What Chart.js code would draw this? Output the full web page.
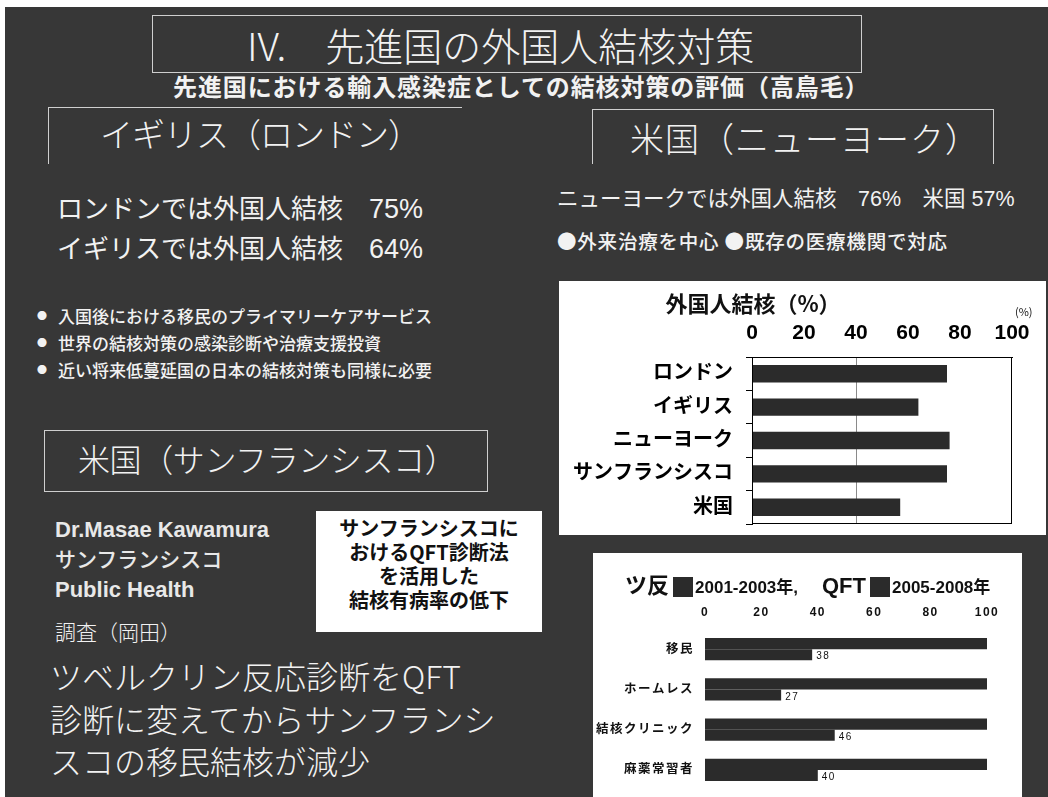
<!DOCTYPE html>
<html lang="ja">
<head>
<meta charset="utf-8">
<title>IV. 先進国の外国人結核対策</title>
<script src="https://cdn.jsdelivr.net/npm/chart.js@4.4.1/dist/chart.umd.min.js"></script>
<style>
  html, body { margin: 0; padding: 0; }
  body {
    width: 1048px; height: 797px; position: relative; overflow: hidden;
    background: #fff; font-family: 'Noto Sans CJK JP', sans-serif;
  }
  .slide { position: absolute; left: 5px; top: 7px; right: 0; bottom: 0; background: #373737; }
  .t { position: absolute; white-space: nowrap; color: #f2f2f2; line-height: 1; }
  .thin { font-weight: 300; }
  .latin { font-family: 'Liberation Sans', 'Noto Sans CJK JP', sans-serif; }
  .frame { position: absolute; border-color: #cfcfcf; border-style: solid; border-width: 0; }
  .dot { display: inline-block; width: 21px; font-size: 10px; vertical-align: 3px; }
  .panel { position: absolute; background: #fff; }
  .panel canvas { display: block; }
  .note {
    position: absolute; left: 316px; top: 511px; width: 226px; height: 121px; background: #fff;
    color: #111; font-weight: 700; font-size: 20px; line-height: 24px; text-align: center;
    box-sizing: border-box; padding-top: 5px;
  }
  .k { position: absolute; white-space: nowrap; color: #111; line-height: 1; font-weight: 700; }
  .sq { position: absolute; width: 20px; height: 20px; background: #2b2b2b; }
</style>
</head>
<body>
<div class="slide"></div>

<!-- 見出し -->
<div class="frame" style="left:152px;top:15px;width:708px;height:56px;border-width:1.5px;"></div>
<div class="t thin" style="left:247px;top:25px;font-size:39px;">IV.&emsp;先進国の外国人結核対策</div>
<div class="t" style="left:173px;top:74px;font-size:24px;font-weight:700;letter-spacing:0.9px;">先進国における輸入感染症としての結核対策の評価（高鳥毛）</div>

<!-- イギリス -->
<div class="frame" style="left:48px;top:107px;width:413px;height:56px;border-top-width:1px;border-left-width:1px;"></div>
<div class="t thin" style="left:100px;top:117px;font-size:33px;letter-spacing:-1px;">イギリス（ロンドン）</div>
<div class="t latin" style="left:57px;top:196px;font-size:26px;">ロンドンでは外国人結核&emsp;<span style="font-size:27px;">75%</span></div>
<div class="t latin" style="left:57px;top:236px;font-size:26px;">イギリスでは外国人結核&emsp;<span style="font-size:27px;">64%</span></div>
<div class="t" style="left:37px;top:307px;font-size:17px;font-weight:500;"><span class="dot">●</span>入国後における移民のプライマリーケアサービス</div>
<div class="t" style="left:37px;top:334px;font-size:17px;font-weight:500;"><span class="dot">●</span>世界の結核対策の感染診断や治療支援投資</div>
<div class="t" style="left:37px;top:361px;font-size:17px;font-weight:500;"><span class="dot">●</span>近い将来低蔓延国の日本の結核対策も同様に必要</div>

<!-- 米国（ニューヨーク） -->
<div class="frame" style="left:592px;top:109px;width:400px;height:54px;border-top-width:1px;border-left-width:1px;border-right-width:1px;"></div>
<div class="t thin" style="left:630px;top:121px;font-size:34px;letter-spacing:1px;">米国（ニューヨーク）</div>
<div class="t latin" style="left:557px;top:189px;font-size:21.5px;">ニューヨークでは外国人結核&emsp;76%&emsp;米国 57%</div>
<div class="t" style="left:557px;top:231px;font-size:19.5px;font-weight:500;letter-spacing:0.8px;">●外来治療を中心 ●既存の医療機関で対応</div>

<!-- 米国（サンフランシスコ） -->
<div class="frame" style="left:44px;top:430px;width:442px;height:60px;border-width:1px;"></div>
<div class="t thin" style="left:78px;top:442px;font-size:32px;letter-spacing:-0.4px;">米国（サンフランシスコ）</div>
<div class="t latin" style="left:55px;top:519px;font-size:22px;font-weight:700;color:#e8e8e8;">Dr.Masae Kawamura</div>
<div class="t" style="left:55px;top:548px;font-size:21px;font-weight:500;color:#e8e8e8;">サンフランシスコ</div>
<div class="t latin" style="left:55px;top:579px;font-size:22px;font-weight:700;color:#e8e8e8;">Public Health</div>
<div class="note">サンフランシスコに<br>おけるQFT診断法<br>を活用した<br>結核有病率の低下</div>
<div class="t thin" style="left:55px;top:621px;font-size:21px;">調査（岡田）</div>
<div class="t thin" style="left:50px;top:659px;font-size:32px;">ツベルクリン反応診断をQFT</div>
<div class="t thin" style="left:50px;top:702px;font-size:32px;">診断に変えてからサンフランシ</div>
<div class="t thin" style="left:50px;top:744px;font-size:32px;">スコの移民結核が減少</div>

<!-- 外国人結核の割合 -->
<div class="panel" style="left:559px;top:281px;width:487px;height:254px;">
  <canvas id="rateChart" width="487" height="254"></canvas>
</div>
<div class="k" style="left:753px;top:291px;font-size:22px;transform:translateX(-50%);">外国人結核（%）</div>
<div class="k" style="left:1015px;top:306px;font-size:11px;font-weight:400;">(%)</div>

<!-- ツ反 / QFT の比較 -->
<div class="panel" style="left:593px;top:553px;width:429px;height:244px;">
  <canvas id="qftChart" width="429" height="244"></canvas>
</div>
<div id="qftLegend"></div>

<script>
// 外国人結核の割合（%）
const cityLabels = ['ロンドン', 'イギリス', 'ニューヨーク', 'サンフランシスコ', '米国'];
const foreignTbRate = [75, 64, 76, 75, 57];
const rateTicks = [0, 20, 40, 60, 80, 100];

// サンフランシスコの結核有病率：ツ反 (2001-2003年) を 100 とした QFT (2005-2008年)
const groupLabels = ['移民', 'ホームレス', '結核クリニック', '麻薬常習者'];
const testNames = ['ツ反', 'QFT'];
const periodLabels = ['2001-2003年,', '2005-2008年'];
const tstValues = [100, 100, 100, 100];
const qftValues = [38, 27, 46, 40];
const qftTicks = [0, 20, 40, 60, 80, 100];

const FONT = "'Liberation Sans', 'Noto Sans CJK JP', sans-serif";
const BAR = '#2b2b2b';

// plot area outline
const frame = {
  id: 'frame',
  afterDraw(chart) {
    const { ctx, chartArea: a } = chart;
    ctx.save();
    ctx.strokeStyle = '#000';
    ctx.lineWidth = 1;
    ctx.strokeRect(Math.round(a.left) + 0.5, Math.round(a.top) + 0.5,
      Math.round(a.right - a.left) - 1, Math.round(a.bottom - a.top) - 1);
    ctx.restore();
  }
};

// numbers at the end of the QFT bars
const valueLabels = {
  id: 'valueLabels',
  afterDatasetsDraw(chart) {
    const { ctx } = chart;
    const values = chart.data.datasets[1].data;
    ctx.save();
    ctx.font = '10px ' + FONT;
    ctx.fillStyle = '#111';
    ctx.textAlign = 'left';
    ctx.textBaseline = 'middle';
    chart.getDatasetMeta(1).data.forEach((bar, i) => {
      ctx.fillText(String(values[i]), bar.x + 4, bar.y + 2);
    });
    ctx.restore();
  }
};

// spaced-out lettering on the second chart
const spaced = {
  id: 'spaced',
  beforeDraw(chart) { chart.ctx.letterSpacing = '1.5px'; },
  afterDraw(chart) { chart.ctx.letterSpacing = '0px'; }
};

new Chart(document.getElementById('rateChart'), {
  type: 'bar',
  data: {
    labels: cityLabels,
    datasets: [{
      label: '外国人結核',
      data: foreignTbRate,
      backgroundColor: BAR,
      barPercentage: 0.52,
      categoryPercentage: 1
    }]
  },
  options: {
    indexAxis: 'y',
    responsive: false,
    animation: false,
    devicePixelRatio: 1,
    layout: { padding: { left: 0, top: 0, right: 34, bottom: 11 } },
    plugins: { legend: { display: false }, tooltip: { enabled: false } },
    scales: {
      x: {
        position: 'top',
        min: 0,
        max: 100,
        afterBuildTicks: s => { s.ticks = rateTicks.map(v => ({ value: v })); },
        afterFit: s => { s.height = 76; s.paddingLeft = 0; s.paddingRight = 0; },
        ticks: { color: '#000', font: { family: FONT, size: 21, weight: 'bold' }, padding: 11, maxRotation: 0 },
        grid: {
          drawTicks: false,
          color: c => (c.tick && c.tick.value === 40 ? '#8a8a8a' : 'rgba(0,0,0,0)')
        },
        border: { display: true, color: '#000' }
      },
      y: {
        afterFit: s => { s.width = 193; s.paddingTop = 0; s.paddingBottom = 0; },
        ticks: { color: '#000', font: { family: FONT, size: 20, weight: 'bold' }, padding: 13 },
        grid: { drawOnChartArea: false, drawTicks: true, tickLength: 6, color: '#000' },
        border: { color: '#000' }
      }
    }
  },
  plugins: [frame]
});

new Chart(document.getElementById('qftChart'), {
  type: 'bar',
  data: {
    labels: groupLabels,
    datasets: [
      { label: testNames[0] + ' ' + periodLabels[0], data: tstValues, backgroundColor: BAR, barPercentage: 1, categoryPercentage: 0.55 },
      { label: testNames[1] + ' ' + periodLabels[1], data: qftValues, backgroundColor: BAR, barPercentage: 1, categoryPercentage: 0.55 }
    ]
  },
  options: {
    indexAxis: 'y',
    responsive: false,
    animation: false,
    devicePixelRatio: 1,
    layout: { padding: { left: 0, top: 0, right: 35, bottom: 7 } },
    plugins: { legend: { display: false }, tooltip: { enabled: false } },
    scales: {
      x: {
        position: 'top',
        min: 0,
        max: 100,
        afterBuildTicks: s => { s.ticks = qftTicks.map(v => ({ value: v })); },
        afterFit: s => { s.height = 76; s.paddingLeft = 0; s.paddingRight = 0; },
        ticks: { color: '#111', font: { family: FONT, size: 12, weight: 'bold' }, padding: 9, maxRotation: 0 },
        grid: { display: false, drawTicks: false },
        border: { display: false }
      },
      y: {
        afterFit: s => { s.width = 112; s.paddingTop = 0; s.paddingBottom = 0; },
        ticks: { color: '#111', font: { family: FONT, size: 12.5, weight: 'bold' }, padding: 11 },
        grid: { display: false, drawTicks: false },
        border: { display: false }
      }
    }
  },
  plugins: [valueLabels, spaced]
});

// legend line: ツ反 ■ 2001-2003年,   QFT ■ 2005-2008年
const legend = document.getElementById('qftLegend');
const legendX = [625, 822];
testNames.forEach((name, i) => {
  const x = legendX[i];
  const nameEl = document.createElement('div');
  nameEl.className = 'k';
  nameEl.style.cssText = `left:${x}px;top:575px;font-size:22px;font-family:${FONT};`;
  nameEl.textContent = name;
  legend.appendChild(nameEl);
  const w = nameEl.getBoundingClientRect().width;
  const box = document.createElement('div');
  box.className = 'sq';
  box.style.cssText = `left:${x + w + 4}px;top:577px;`;
  legend.appendChild(box);
  const period = document.createElement('div');
  period.className = 'k';
  period.style.cssText = `left:${x + w + 26}px;top:579px;font-size:17px;font-family:${FONT};`;
  period.textContent = periodLabels[i];
  legend.appendChild(period);
});
</script>
</body>
</html>
